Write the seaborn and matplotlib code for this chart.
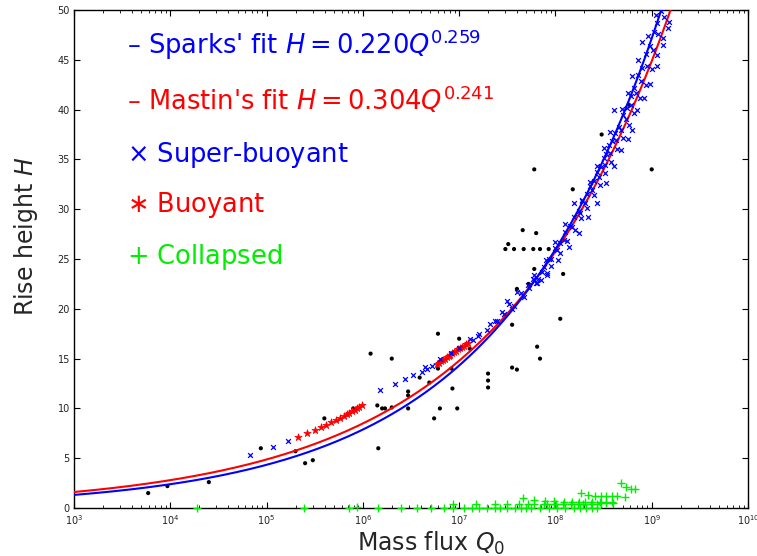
import numpy as np
import pandas as pd
import matplotlib
matplotlib.use("Agg")
import matplotlib.pyplot as plt
import seaborn as sns
from matplotlib.ticker import FixedLocator, FuncFormatter, NullFormatter

# fit coefficients quoted on the chart: H = a * Q**b
sparks_a, sparks_b = 0.220, 0.259
mastin_a, mastin_b = 0.304, 0.241

x_decades = [3, 4, 5, 6, 7, 8, 9, 10]

# observed eruptions (black dots), log10 Q and H
obs_logq = [3.77, 3.97, 4.40, 4.94, 5.30, 5.40, 5.48, 5.60, 5.90, 6.08, 6.15, 6.16,
            6.20, 6.23, 6.30, 6.30, 6.47, 6.47, 6.47, 6.59, 6.69, 6.74, 6.78, 6.78,
            6.80, 6.92, 6.93, 6.98, 7.00, 7.11, 7.30, 7.30, 7.30, 7.55, 7.55, 7.60,
            7.60, 7.81, 7.84, 7.48, 7.51, 7.57, 7.67, 7.77, 7.84, 7.93, 7.66, 7.80,
            7.78, 8.18, 8.48, 7.78, 8.08, 7.72, 8.05, 8.76, 9.00]
obs_h = [1.5, 2.2, 2.6, 6.0, 5.7, 4.5, 4.8, 9.0, 10.0, 15.5, 10.3, 6.0,
         10.0, 10.0, 15.0, 10.1, 11.7, 11.3, 10.0, 13.1, 12.6, 9.0, 17.5, 14.0,
         10.0, 14.0, 12.0, 10.0, 17.0, 16.0, 13.5, 12.8, 12.1, 18.4, 14.1, 13.9,
         22.0, 16.2, 15.0, 26.0, 26.5, 26.0, 26.0, 26.0, 26.0, 26.0, 27.9, 27.6,
         34.0, 32.0, 37.5, 24.0, 23.5, 22.5, 19.0, 40.5, 34.0]

# super-buoyant model runs (blue x)
sb_logq = [4.83, 5.07, 5.22, 6.18, 6.33, 6.44, 6.52, 6.61, 6.65, 6.67, 6.72, 6.80,
           6.92, 7.00, 7.11, 7.14, 7.20, 7.21, 7.29, 7.32, 7.37, 7.39, 7.44, 7.47,
           7.50, 7.52, 7.55, 7.57, 7.60, 7.64, 7.67, 7.71, 7.73, 7.77, 7.78, 7.80,
           7.82, 7.86, 7.88, 7.90, 7.93, 7.91,
           # upper edge of the band
           8.00, 8.10, 8.19, 8.28, 8.36, 8.43, 8.50, 8.57, 8.61, 8.69, 8.75, 8.80,
           8.86, 8.90, 8.96, 9.04,
           # along Sparks' curve
           7.95, 8.00, 8.05, 8.10, 8.15, 8.19, 8.24, 8.28, 8.33, 8.36, 8.40, 8.43,
           8.47, 8.50, 8.53, 8.56, 8.59, 8.62, 8.66, 8.70, 8.74, 8.78, 8.82, 8.86,
           8.90, 8.94, 8.98, 9.02, 9.06, 9.10,
           # middle of the band
           8.02, 8.09, 8.17, 8.25, 8.31, 8.38, 8.45, 8.51, 8.57, 8.63, 8.68, 8.73,
           8.79, 8.84, 8.89, 8.95, 9.01, 9.07, 9.13,
           # along Mastin's curve
           7.85, 7.95, 8.05, 8.12, 8.20, 8.27, 8.33, 8.40, 8.46, 8.52, 8.58, 8.64,
           8.70, 8.76, 8.82, 8.88, 8.94, 9.00, 9.06, 9.12, 9.18,
           # lower edge of the band
           7.81, 7.91, 8.03, 8.14, 8.24, 8.34, 8.43, 8.53, 8.61, 8.68, 8.75, 8.80,
           8.85, 8.92, 8.98, 9.05, 9.12, 9.17]
sb_h = [5.35, 6.1, 6.7, 11.85, 12.5, 13.0, 13.4, 13.7, 14.2, 14.0, 14.3, 15.0,
        15.6, 16.1, 17.0, 16.9, 17.3, 17.5, 17.9, 18.5, 18.8, 18.8, 19.7, 19.5,
        20.8, 20.5, 20.0, 20.3, 21.7, 21.6, 21.2, 22.4, 22.1, 23.0, 23.4, 22.6,
        23.0, 23.7, 24.2, 24.9, 25.0, 23.4,
        26.7, 28.5, 30.6, 30.9, 32.7, 34.3, 36.1, 37.8, 40.0, 40.1, 41.7, 43.4,
        45.0, 46.8, 47.4, 49.5,
        25.0, 26.1, 26.6, 27.7, 28.3, 29.2, 29.8, 30.8, 31.5, 32.3, 32.8, 33.7,
        34.2, 35.1, 35.5, 36.4, 36.8, 37.7, 38.3, 39.5, 40.2, 41.4, 42.2, 43.5,
        44.2, 45.6, 46.4, 47.8, 48.7, 49.9,
        25.9, 26.9, 28.2, 29.6, 30.6, 31.9, 33.2, 34.4, 35.6, 36.9, 38.0, 39.1,
        40.5, 41.7, 42.9, 44.4, 46.0, 47.6, 49.3,
        22.9, 24.3, 25.6, 26.8, 27.9, 29.1, 30.1, 31.4, 32.4, 33.6, 34.7, 36.0,
        37.1, 38.5, 39.7, 41.2, 42.5, 44.1, 45.5, 47.2, 48.8,
        22.6, 23.6, 24.9, 26.2, 27.6, 29.2, 30.6, 32.6, 34.3, 35.9, 37.0, 38.0,
        40.0, 41.2, 42.6, 44.4, 46.5, 48.2]

# buoyant model runs (red *)
b_logq = [5.33, 5.42, 5.50, 5.56, 5.62, 5.67, 5.72, 5.76, 5.80, 5.83, 5.86, 5.89,
          5.92, 5.94, 5.96, 5.99,
          6.77, 6.79, 6.81, 6.83, 6.85, 6.87, 6.89, 6.91, 6.93, 6.95, 6.97, 6.99,
          7.01, 7.03, 7.05, 7.07, 7.09]
b_h = [7.1, 7.5, 7.8, 8.1, 8.3, 8.6, 8.8, 9.0, 9.2, 9.4, 9.5, 9.7,
       9.8, 10.0, 10.1, 10.3,
       14.5, 14.6, 14.75, 14.9, 15.0, 15.15, 15.3, 15.4, 15.55, 15.7, 15.8, 15.95,
       16.05, 16.2, 16.3, 16.45, 16.55]

# collapsed model runs (green +)
c_logq = [4.28, 5.39, 5.86, 5.94, 6.16, 6.40, 6.56, 6.71, 6.84, 6.94, 7.05, 7.13,
          7.21, 7.29, 7.37, 7.42, 7.50, 7.58, 7.64, 7.69, 7.75, 7.84, 7.93, 8.02,
          8.10, 8.19, 8.26, 8.32, 8.38, 8.43,
          6.94, 7.17, 7.37, 7.50, 7.62, 7.72, 7.78, 7.88, 7.91, 7.98, 8.01, 8.08,
          8.16, 8.23, 8.29, 8.37, 8.43, 8.47, 8.53, 8.60,
          7.66, 7.78, 7.89, 7.99, 8.09, 8.17, 8.24, 8.31, 8.38, 8.46, 8.53, 8.59,
          8.27, 8.34, 8.41, 8.47, 8.53, 8.59, 8.64, 8.72,
          8.68, 8.73, 8.78, 8.83]
c_h = [0.0, 0.0, 0.0, 0.1, 0.0, 0.0, 0.0, 0.0, 0.0, 0.0, 0.0, 0.0,
       0.0, 0.0, 0.0, 0.0, 0.0, 0.0, 0.0, 0.0, 0.0, 0.0, 0.0, 0.0,
       0.0, 0.0, 0.0, 0.0, 0.0, 0.0,
       0.4, 0.4, 0.4, 0.4, 0.4, 0.4, 0.4, 0.4, 0.4, 0.4, 0.4, 0.4,
       0.4, 0.4, 0.4, 0.4, 0.4, 0.5, 0.5, 0.5,
       1.0, 0.8, 0.7, 0.7, 0.6, 0.6, 0.6, 0.6, 0.6, 0.6, 0.6, 0.6,
       1.5, 1.35, 1.25, 1.2, 1.2, 1.2, 1.2, 1.15,
       2.5, 2.1, 1.95, 1.9]

q_grid = np.logspace(3, 10, 400)
fits = pd.DataFrame({
    "Q": q_grid,
    "sparks": sparks_a * q_grid ** sparks_b,
    "mastin": mastin_a * q_grid ** mastin_b,
})

sns.set_style("ticks")
plt.rcParams["mathtext.fontset"] = "dejavusans"
plt.rcParams["font.family"] = ["DejaVu Sans"]

fig = plt.figure(figsize=(7.57, 5.56), dpi=100)
ax = fig.add_axes([0.0978, 0.0863, 0.8903, 0.8957])

sns.scatterplot(x=10 ** np.array(obs_logq), y=obs_h, ax=ax, color="black",
                marker="o", s=9, edgecolor="none", legend=False, zorder=2)
sns.scatterplot(x=10 ** np.array(b_logq), y=b_h, ax=ax, color="red",
                marker="*", s=30, edgecolor="red", linewidth=0.5, legend=False, zorder=3)
sns.lineplot(data=fits, x="Q", y="mastin", ax=ax, color="red", lw=1.5, zorder=3)
sns.scatterplot(x=10 ** np.array(sb_logq), y=sb_h, ax=ax, color="blue",
                marker="x", s=12, linewidth=0.9, legend=False, zorder=4)
sns.lineplot(data=fits, x="Q", y="sparks", ax=ax, color="blue", lw=1.5, zorder=5)
sns.scatterplot(x=10 ** np.array(c_logq), y=c_h, ax=ax, color="#00ee00",
                marker="+", s=30, linewidth=1.0, legend=False, zorder=6, clip_on=False)

ax.set_xscale("log")
ax.set_xlim(1e3, 1e10)
ax.set_ylim(0, 50)
ax.set_yticks(range(0, 51, 5))
major_x = [10.0 ** d for d in x_decades]
minor_x = [m * 10.0 ** d for d in x_decades[:-1] for m in range(2, 10)]
ax.xaxis.set_major_locator(FixedLocator(major_x))
ax.xaxis.set_minor_locator(FixedLocator(minor_x))
ax.xaxis.set_minor_formatter(NullFormatter())
ax.xaxis.set_major_formatter(FuncFormatter(lambda v, p: r"$10^{%d}$" % round(np.log10(v))))
ax.tick_params(which="both", direction="in", top=True, right=True, labelsize=7,
               colors="black", labelcolor="#222222")
ax.tick_params(which="major", length=4, width=0.8, pad=3)
ax.tick_params(axis="x", which="major", pad=4)
ax.tick_params(which="minor", length=2.5, width=0.6)
for s in ax.spines.values():
    s.set_linewidth(1.0)
    s.set_color("black")

ax.set_xlabel(r"Mass flux $Q_0$", fontsize=17)
ax.set_ylabel(r"Rise height $H$", fontsize=17)
ax.xaxis.set_label_coords(0.53, -0.043)
ax.yaxis.set_label_coords(-0.05, 0.545)

legend_rows = [
    (r"– Sparks' fit $H = 0.220Q^{0.259}$", "blue"),
    (r"– Mastin's fit $H = 0.304Q^{0.241}$", "red"),
    (r"$\times$ Super-buoyant", "blue"),
    (r"$\ast$ Buoyant", "red"),
    (r"$+$ Collapsed", "#00ee00"),
]
ys = [0.930, 0.819, 0.709, 0.608, 0.504]
for (txt, col), yy in zip(legend_rows, ys):
    ax.text(0.078, yy, txt, color=col, fontsize=18.5, va="center", ha="left",
            transform=ax.transAxes)

fig.savefig("out.png", dpi=100)
